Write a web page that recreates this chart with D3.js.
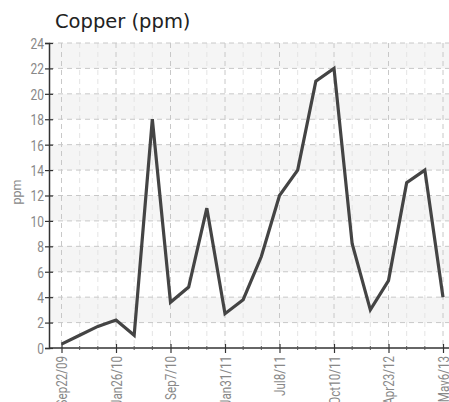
<!DOCTYPE html>
<html><head><meta charset="utf-8">
<script src="https://cdn.jsdelivr.net/npm/d3@7"></script>
<style>body{margin:0;background:#fff}</style>
</head><body>
<svg id="c" width="449" height="402"></svg>
<script>
const values = [0.3, 1.0, 1.7, 2.2, 1.0, 18.0, 3.6, 4.8, 11.0, 2.7, 3.8, 7.2, 12.0, 14.0, 21.0, 22.0, 8.2, 3.0, 5.3, 13.0, 14.0, 4.0];
const tickIndex = [0, 3, 6, 9, 12, 15, 18, 21];
const tickLabels = ["Sep22/09", "Jan26/10", "Sep7/10", "Jan31/11", "Jul8/11", "Oct10/11", "Apr23/12", "May6/13"];
const yTicks = [0, 2, 4, 6, 8, 10, 12, 14, 16, 18, 20, 22, 24];

const svg = d3.select("#c");
const L = 49, R = 449, T = 43, B = 348;
const x = d3.scaleLinear().domain([0, values.length - 1]).range([61.5, 443]);
const y = d3.scaleLinear().domain([0, 24]).range([B, T]);

// bands
for (let i = 0; i < yTicks.length - 1; i++) {
  if (i % 2 === 1) {
    svg.append("rect").attr("x", L).attr("width", R - L)
      .attr("y", y(yTicks[i + 1])).attr("height", y(yTicks[i]) - y(yTicks[i + 1]))
      .attr("fill", "#f5f5f5");
  }
}
// vertical gridlines
d3.range(values.length).forEach(i => {
  const major = tickIndex.includes(i);
  svg.append("line").attr("x1", x(i)).attr("x2", x(i)).attr("y1", T).attr("y2", B)
    .attr("stroke", major ? "#c8c8c8" : "#e4e4e4").attr("stroke-dasharray", "5,4").attr("stroke-width", 1);
});
// horizontal gridlines
yTicks.slice(1).forEach(v => {
  svg.append("line").attr("x1", L).attr("x2", R).attr("y1", y(v)).attr("y2", y(v))
    .attr("stroke", "#c8c8c8").attr("stroke-dasharray", "5,4").attr("stroke-width", 1);
});

// axes
const fontTick = "Roboto,'Liberation Sans',sans-serif";
const yAxis = svg.append("g").attr("transform", `translate(${L},0)`)
  .call(d3.axisLeft(y).tickValues(yTicks).tickSize(4).tickPadding(4));
yAxis.select(".domain").attr("stroke", "#333").attr("stroke-width", 1.5);
yAxis.selectAll(".tick line").attr("stroke", "#333").attr("x2", 4).attr("x1", -4).attr("stroke-width", 1.2);
yAxis.selectAll("text").attr("fill", "#888").style("font-family", fontTick).style("font-size", "15px")
  .attr("x", 0).attr("dy", "0.36em")
  .attr("transform", "translate(-5,0) scale(0.8,1)");

const xAxis = svg.append("g").attr("transform", `translate(0,${B})`)
  .call(d3.axisBottom(x).tickValues(tickIndex).tickFormat((d, i) => tickLabels[i]).tickSize(4).tickSizeOuter(0));
xAxis.select(".domain").attr("d", `M${L},0H${R}`).attr("stroke", "#333").attr("stroke-width", 1.5);
xAxis.selectAll(".tick line").attr("stroke", "#333").attr("y1", -4).attr("y2", 5).attr("stroke-width", 1.2);
xAxis.selectAll("text").attr("fill", "#888").style("font-family", fontTick).style("font-size", "14.5px")
  .attr("transform", "rotate(-90) scale(0.8,1)").attr("text-anchor", "end").attr("x", -10).attr("y", 0).attr("dy", "0.36em");
// minor ticks
d3.range(values.length).filter(i => !tickIndex.includes(i)).forEach(i => {
  svg.append("line").attr("x1", x(i)).attr("x2", x(i)).attr("y1", B - 2).attr("y2", B + 2)
    .attr("stroke", "#555").attr("stroke-width", 1);
});

// line
svg.append("path").datum(values)
  .attr("d", d3.line().x((d, i) => x(i)).y(d => y(d)))
  .attr("fill", "none").attr("stroke", "#444").attr("stroke-width", 3.2)
  .attr("stroke-linejoin", "miter");

// y label
svg.append("text").attr("transform", `translate(21,192) rotate(-90)`)
  .attr("text-anchor", "middle").attr("fill", "#888")
  .style("font-family", fontTick).style("font-size", "12.5px").text("ppm");

// title
svg.append("text").attr("x", 55).attr("y", 28).attr("fill", "#222")
  .style("font-family", "'DejaVu Sans',Verdana,sans-serif").style("font-size", "19.5px").text("Copper (ppm)");
</script>
</body></html>
